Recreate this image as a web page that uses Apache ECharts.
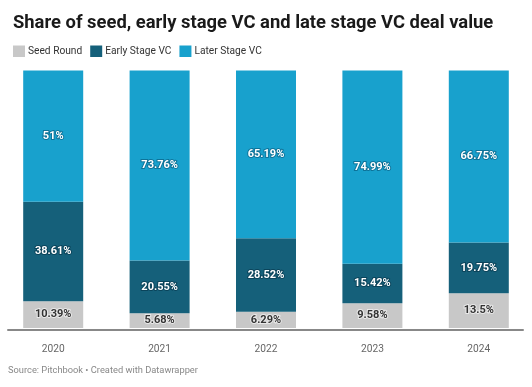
<!DOCTYPE html>
<html>
<head>
<meta charset="utf-8">
<script src="https://cdn.jsdelivr.net/npm/echarts@6/dist/echarts.min.js"></script>
<style>
html,body{margin:0;padding:0;background:#fff;}
#c{width:532px;height:387px;}
</style>
</head>
<body>
<div id="c"></div>
<script>
const categories = ['2020', '2021', '2022', '2023', '2024'];
const seedRound = [10.39, 5.68, 6.29, 9.58, 13.5];
const earlyStage = [38.61, 20.55, 28.52, 15.42, 19.75];
const laterStage = [51, 73.76, 65.19, 74.99, 66.75];
const seriesNames = ['Seed Round', 'Early Stage VC', 'Later Stage VC'];

const chart = echarts.init(document.getElementById('c'), null, {renderer: 'canvas'});
const FONT = 'Roboto';
function lbl(color, border) {
  return {
    show: true, position: 'inside', fontFamily: FONT, fontSize: 11, fontWeight: 'bold',
    color: color, textBorderColor: border, textBorderWidth: 2,
    formatter: p => p.value + '%'
  };
}
const TOP = 70.5, BOTTOM = 59;
chart.setOption({
  animation: false,
  title: {
    text: 'Share of seed, early stage VC and late stage VC deal value',
    left: 8, top: 9,
    textStyle: {fontFamily: FONT, fontSize: 18.4, fontWeight: 'bold', color: '#1a1a1a'}
  },
  legend: {
    left: 8, top: 40.5, itemWidth: 12, itemHeight: 11.5, itemGap: 8,
    icon: 'rect',
    data: seriesNames,
    textStyle: {fontFamily: FONT, fontSize: 10.2, color: '#333', padding: [0, 0, 0, -2]}
  },
  graphic: [{
    type: 'text', left: 8, top: 366,
    style: {text: 'Source: Pitchbook \u2022 Created with Datawrapper', fontFamily: FONT, fontSize: 9.3, fill: '#888'}
  }],
  grid: [
    {left: -2.7, right: -2.3, top: TOP, bottom: BOTTOM},
    {left: 8, right: 9, top: TOP, bottom: BOTTOM - 1.5}
  ],
  xAxis: [
    {
      type: 'category', data: categories, gridIndex: 0,
      axisLine: {show: false}, axisTick: {show: false},
      axisLabel: {fontFamily: FONT, fontSize: 10.2, color: '#666', margin: 16}
    },
    {
      type: 'value', gridIndex: 1, min: 0, max: 1,
      axisLine: {show: true, lineStyle: {color: '#888', width: 2}},
      axisTick: {show: false}, axisLabel: {show: false}, splitLine: {show: false}
    }
  ],
  yAxis: [
    {type: 'value', gridIndex: 0, min: 0, max: 100, show: false, splitLine: {show: false}},
    {type: 'value', gridIndex: 1, min: 0, max: 1, show: false, splitLine: {show: false}}
  ],
  series: [
    {name: seriesNames[0], type: 'bar', stack: 's', data: seedRound, barWidth: 60,
     itemStyle: {color: '#c8c8c8'}, label: lbl('#333', 'rgba(255,255,255,0.6)')},
    {name: seriesNames[1], type: 'bar', stack: 's', data: earlyStage, barWidth: 60,
     itemStyle: {color: '#15607a'}, label: lbl('#fff', 'rgba(0,40,60,0.5)')},
    {name: seriesNames[2], type: 'bar', stack: 's', data: laterStage, barWidth: 60,
     itemStyle: {color: '#18a1cd'}, label: lbl('#fff', 'rgba(0,60,90,0.45)')}
  ]
});
</script>
</body>
</html>
